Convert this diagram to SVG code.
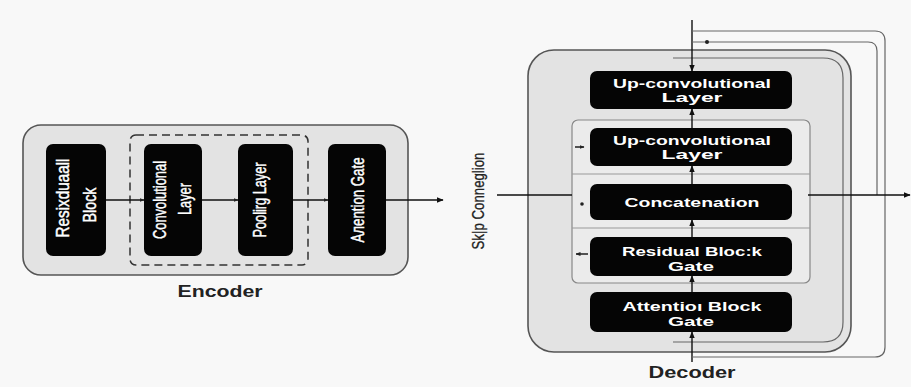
<svg xmlns="http://www.w3.org/2000/svg" width="911" height="387" viewBox="0 0 911 387">
<defs>
<marker id="ah" viewBox="0 0 10 10" refX="9" refY="5" markerWidth="7" markerHeight="7" markerUnits="userSpaceOnUse" orient="auto">
<path d="M0,1 L10,5 L0,9 Z" fill="#111"/>
</marker>
<marker id="ahs" viewBox="0 0 10 10" refX="9" refY="5" markerWidth="5" markerHeight="5" markerUnits="userSpaceOnUse" orient="auto">
<path d="M0,1 L10,5 L0,9 Z" fill="#222"/>
</marker>
</defs>
<style>
.bg{fill:#f8f8f8}
.panel{fill:#e3e3e3;stroke:#555;stroke-width:1.6}
.inner{fill:#ebebeb;stroke:#888;stroke-width:1.2}
.node{fill:#050505}
.dash{fill:none;stroke:#333;stroke-width:1.5;stroke-dasharray:8 5}
.ln{fill:none;stroke:#111;stroke-width:1.4}
.thin{fill:none;stroke:#666;stroke-width:1.2}
.div{fill:none;stroke:#999;stroke-width:1}
.vt{font-family:"Liberation Sans",Arial,sans-serif;font-size:17.5px;fill:#fff;stroke:#fff;stroke-width:0.45;text-anchor:middle}
.ht{font-family:"Liberation Sans",Arial,sans-serif;font-size:12.5px;font-weight:bold;fill:#fff;text-anchor:middle}
.lbl{font-family:"Liberation Sans",Arial,sans-serif;font-size:16px;font-weight:bold;fill:#222;text-anchor:middle}
.skip{font-family:"Liberation Sans",Arial,sans-serif;font-size:17px;fill:#222;stroke:#222;stroke-width:0.3;text-anchor:middle}
</style>
<rect class="bg" x="0" y="0" width="911" height="387"/>

<g id="encoder">
<rect class="panel" x="23" y="125" width="385" height="150" rx="18"/>
<rect class="dash" x="130" y="135" width="178" height="130" rx="6"/>
<text class="lbl" x="220" y="297" textLength="85" lengthAdjust="spacingAndGlyphs">Encoder</text>
</g>

<g id="residual-block">
<rect class="node" x="46" y="144" width="60" height="112" rx="7"/>
<text class="vt" transform="translate(69,198) rotate(-90)" textLength="79" lengthAdjust="spacingAndGlyphs">Resixduaall</text>
<text class="vt" transform="translate(96,205) rotate(-90)" textLength="35" lengthAdjust="spacingAndGlyphs">Block</text>
</g>

<g id="convolutional-layer">
<rect class="node" x="144" y="144" width="58" height="112" rx="7"/>
<text class="vt" transform="translate(166,200) rotate(-90)" textLength="78" lengthAdjust="spacingAndGlyphs">Convolutional</text>
<text class="vt" transform="translate(191,199) rotate(-90)" textLength="32" lengthAdjust="spacingAndGlyphs">Layer</text>
</g>

<g id="pooling-layer">
<rect class="node" x="238" y="144" width="55" height="112" rx="7"/>
<text class="vt" transform="translate(266,200) rotate(-90)" textLength="75" lengthAdjust="spacingAndGlyphs">Poolirg Layer</text>
</g>

<g id="attention-gate">
<rect class="node" x="328" y="144" width="58" height="112" rx="7"/>
<text class="vt" transform="translate(364,200) rotate(-90)" textLength="85" lengthAdjust="spacingAndGlyphs">Aлention Gate</text>
</g>

<g id="skip-connection">
<text class="skip" transform="translate(484,201) rotate(-90)" textLength="97" lengthAdjust="spacingAndGlyphs">Sk|p Conneglion</text>
</g>

<g id="decoder">
<rect class="panel" x="528" y="50" width="323" height="302" rx="26"/>
<path class="thin" d="M673,58 H823 Q843,58 843,78 V322 Q843,342 823,342 H673"/>
<rect class="inner" x="572" y="120" width="238" height="163" rx="6"/>
<line class="div" x1="572" y1="174" x2="810" y2="174"/>
<line class="div" x1="572" y1="228" x2="810" y2="228"/>
<text class="lbl" x="692" y="378" textLength="87" lengthAdjust="spacingAndGlyphs">Decoder</text>
</g>

<g id="up-conv-1">
<rect class="node" x="590" y="71" width="202" height="38" rx="7"/>
<text class="ht" x="692" y="87.5" textLength="158" lengthAdjust="spacingAndGlyphs">Up-convolutional</text>
<text class="ht" x="692" y="102" textLength="61" lengthAdjust="spacingAndGlyphs">Layer</text>
</g>

<g id="up-conv-2">
<rect class="node" x="590" y="128" width="202" height="38" rx="7"/>
<text class="ht" x="692" y="144.5" textLength="158" lengthAdjust="spacingAndGlyphs">Up-convolutional</text>
<text class="ht" x="692" y="159" textLength="61" lengthAdjust="spacingAndGlyphs">Layer</text>
</g>

<g id="concatenation">
<rect class="node" x="590" y="184" width="202" height="36" rx="7"/>
<text class="ht" x="692" y="207" textLength="135" lengthAdjust="spacingAndGlyphs" style="font-size:13.5px">Concatenation</text>
</g>

<g id="residual-block-gate">
<rect class="node" x="590" y="237" width="202" height="39" rx="7"/>
<text class="ht" x="692" y="255.5" textLength="140" lengthAdjust="spacingAndGlyphs">Residual Bloc:k</text>
<text class="ht" x="691" y="271" textLength="46" lengthAdjust="spacingAndGlyphs">Gate</text>
</g>

<g id="attention-block-gate">
<rect class="node" x="590" y="292" width="202" height="40" rx="7"/>
<text class="ht" x="692" y="310.5" textLength="139" lengthAdjust="spacingAndGlyphs">Attentioı Block</text>
<text class="ht" x="691" y="325.5" textLength="46" lengthAdjust="spacingAndGlyphs">Gate</text>
</g>

<g id="connectors">
<line class="ln" x1="106" y1="200" x2="144" y2="200" marker-end="url(#ahs)"/>
<line class="ln" x1="202" y1="200" x2="238" y2="200" marker-end="url(#ahs)"/>
<line class="ln" x1="293" y1="200" x2="328" y2="200" marker-end="url(#ahs)"/>
<line class="ln" x1="386" y1="200" x2="443" y2="200" marker-end="url(#ah)"/>
<line class="ln" x1="497" y1="195" x2="572" y2="195"/>
<line class="ln" x1="692" y1="20" x2="692" y2="71" stroke-width="2" marker-end="url(#ah)"/>
<line class="ln" x1="692" y1="128" x2="692" y2="109" marker-end="url(#ah)"/>
<line class="ln" x1="692" y1="184" x2="692" y2="166" marker-end="url(#ah)"/>
<line class="ln" x1="692" y1="237" x2="692" y2="220" marker-end="url(#ah)"/>
<line class="ln" x1="692" y1="292" x2="692" y2="276" marker-end="url(#ah)"/>
<line class="ln" x1="692" y1="362" x2="692" y2="332" stroke-width="2" marker-end="url(#ah)"/>
<path class="thin" d="M692,31 H875 Q885,31 885,41 V347 Q885,357 875,357 H692" stroke="#444"/>
<path class="thin" d="M692,42 H868 Q877,42 877,51 V195" stroke="#444"/>
<circle cx="707" cy="42" r="2" fill="#222"/>
<line class="ln" x1="808" y1="195" x2="910" y2="195" marker-end="url(#ah)"/>
<line class="ln" x1="575" y1="147" x2="584" y2="147" stroke-width="1" marker-end="url(#ahs)"/>
<circle cx="582" cy="204" r="1.8" fill="#222"/>
<line class="ln" x1="588" y1="254" x2="576" y2="254" stroke-width="1" marker-end="url(#ahs)"/>
</g>
</svg>
